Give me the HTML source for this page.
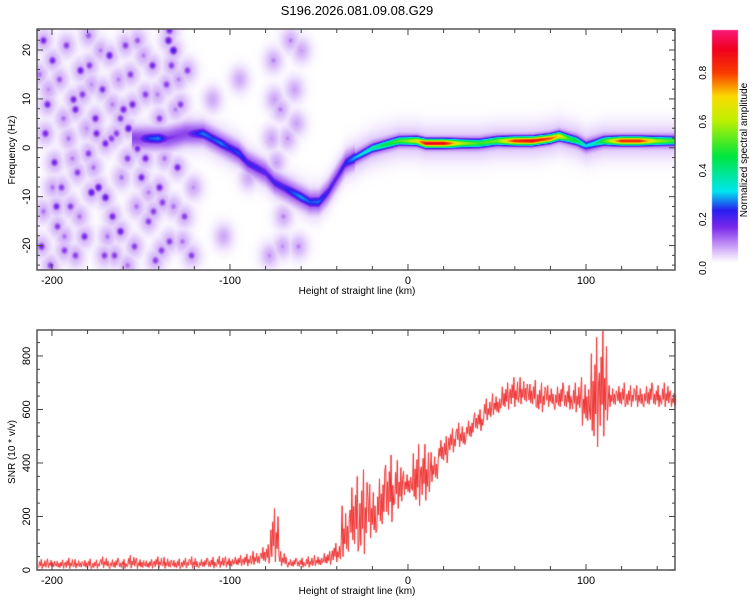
<!DOCTYPE html>
<html><head><meta charset="utf-8"><style>
body{margin:0;background:#fff;width:750px;height:600px;overflow:hidden;font-family:"Liberation Sans",sans-serif}
#wrap{position:relative;width:750px;height:600px}
canvas,svg{position:absolute;left:0;top:0}
</style></head><body><div id="wrap">
<canvas id="cv" width="750" height="600"></canvas>
<svg id="sv" width="750" height="600"></svg>
</div>
<script>
// ---- data ----
const ridgeH=[-155,-148,-145,-140,-135,-125,-120,-115,-110,-105,-100,-95,-90,-85,-80,-75,-70,-65,-60,-55,-50,-45,-40,-35,-30,-25,-20,-15,-10,-5,0,5,10,20,30,40,50,60,70,80,85,90,95,100,105,110,120,130,140,150];
const ridgeF=[2,2,2,2,2,3,3,3,2,1,0,-1,-3,-4,-5,-7,-8,-9,-10,-11,-11,-9,-6,-3,-2,-1,0,0.5,1,1.5,1.5,1.5,1,1,1,1,1.5,1.5,1.5,2,2.5,2,1.5,0.5,1,1.5,1.5,1.5,1.5,1.5];
const ridgeA=[0.02,0.2,0.24,0.26,0.15,0.12,0.2,0.26,0.24,0.26,0.22,0.24,0.2,0.2,0.18,0.2,0.2,0.24,0.27,0.24,0.25,0.2,0.18,0.22,0.28,0.32,0.37,0.42,0.47,0.52,0.57,0.67,0.9,0.9,0.6,0.5,0.55,0.85,0.9,0.8,0.7,0.5,0.45,0.3,0.35,0.5,0.85,0.85,0.6,0.5];
const blobs=[[-205,22,0.16],[-200,18,0.16],[-196,14,0.12],[-192,21,0.14],[-188,10,0.16],[-184,16,0.17],[-180,23,0.12],[-176,6,0.16],[-172,12,0.15],[-168,19,0.17],[-164,3,0.14],[-160,8,0.16],[-156,15,0.14],[-152,22,0.12],[-148,11,0.14],[-144,17,0.16],[-140,6,0.14],[-136,13,0.14],[-132,20,0.2],[-128,9,0.14],[-124,16,0.14],[-204,3,0.16],[-199,-3,0.16],[-195,-8,0.14],[-190,-12,0.14],[-186,-5,0.14],[-182,-18,0.16],[-178,-9,0.18],[-174,-8,0.18],[-170,-10,0.18],[-166,-14,0.16],[-162,-17,0.17],[-158,-2,0.14],[-154,-20,0.14],[-150,-6,0.16],[-146,-15,0.14],[-142,-23,0.14],[-138,-11,0.14],[-134,-19,0.14],[-130,-4,0.16],[-126,-14,0.14],[-122,-22,0.14],[-206,-20,0.16],[-201,-24,0.14],[-197,-16,0.14],[-193,-21,0.14],[-187,-22,0.14],[-180,-1,0.14],[-175,3,0.16],[-170,1,0.16],[-167,2,0.14],[-162,6,0.14],[-157,4,0.18],[-152,0,0.16],[-140,-8,0.16],[-135,22,0.18],[-134,24,0.16],[-133,17,0.14],[-139,-21,0.14],[-143,-13,0.14],[-187,8,0.16],[-183,11,0.14],[-171,-22,0.14],[-165,-22,0.14],[-159,21,0.14],[-148,-2,0.16],[-203,9,0.16],[-198,-12,0.16],[-179,17,0.14],[-155,9,0.16],
[-207,15,0.1],[-202,12,0.08],[-194,6,0.1],[-191,2,0.1],[-185,-14,0.1],[-181,4,0.08],[-177,-4,0.1],[-173,20,0.09],[-169,-18,0.1],[-163,14,0.09],[-161,-6,0.1],[-153,-12,0.1],[-149,19,0.09],[-145,2,0.1],[-141,11,0.09],[-137,-2,0.1],[-131,8,0.09],[-127,-19,0.1],[-123,4,0.1],[-121,-8,0.08],[-200,-8,0.1],[-189,-2,0.09],[-178,13,0.08],[-166,9,0.09],[-158,-24,0.1],[-146,-9,0.09],[-132,-12,0.1],[-129,14,0.09],[-205,-13,0.1],[-193,-18,0.1],
[-76,18,0.09],[-72,8,0.09],[-70,-14,0.09],[-66,22,0.09],[-62,-20,0.09],[-74,-3,0.07],[-68,2,0.08],[-64,12,0.07],[-78,-22,0.08],[-60,20,0.07],[-75,10,0.07],[-71,-20,0.08],[-67,-8,0.07],[-63,5,0.07],[-77,2,0.07],[-110,10,0.06],[-90,-6,0.06],[-104,-18,0.05],[-95,14,0.05]];
const snrX=[-205,-200,-195,-190,-185,-180,-175,-170,-165,-160,-155,-150,-145,-140,-135,-130,-125,-120,-115,-110,-105,-100,-95,-90,-85,-80,-75,-70,-65,-60,-55,-50,-45,-40,-35,-30,-25,-20,-15,-10,-5,0,5,10,15,20,25,30,35,40,45,50,55,60,65,70,75,80,85,90,95,100,105,110,115,120,125,130,135,140,145,150];
const snrLo=[5,8,6,5,7,5,6,8,5,6,7,5,6,8,6,5,7,6,8,7,9,10,15,15,20,25,30,15,10,10,10,15,20,30,50,70,60,120,150,180,230,280,240,260,330,400,440,460,490,520,560,580,600,610,620,610,590,610,600,600,590,540,460,500,610,610,610,610,610,610,610,610];
const snrHi=[40,42,38,45,40,42,38,50,45,40,55,45,40,50,48,42,45,50,45,48,52,50,55,60,70,95,230,70,45,45,50,55,70,100,240,350,375,320,375,430,410,370,470,470,440,500,530,550,570,600,640,660,700,720,720,710,700,690,700,690,700,720,870,895,690,700,690,690,700,690,700,670];
// ---- axes ----
const T={l:37,r:675,t:29,b:270}, B={l:37,r:675,t:330,b:570};
const xS=v=>T.l+(v+208.4)/(358.4)*(T.r-T.l);
const yT=v=>T.t+(24.3-v)/49.3*(T.b-T.t);
const yB=v=>B.b-(v/897)*(B.b-B.t);
function cmap(a){
 const st=[[0,[255,255,255]],[0.03,[232,215,252]],[0.08,[190,140,245]],[0.15,[120,40,235]],[0.22,[40,30,240]],[0.3,[0,230,240]],[0.45,[0,230,60]],[0.6,[190,240,0]],[0.7,[250,220,0]],[0.8,[250,60,0]],[0.9,[240,0,30]],[1,[250,30,140]]];
 a=Math.max(0,Math.min(1,a));
 for(let i=1;i<st.length;i++){if(a<=st[i][0]){const[p,c0]=st[i-1],[q,c1]=st[i];const t=(a-p)/(q-p);return c0.map((c,k)=>Math.round(c+(c1[k]-c)*t));}}
 return st[st.length-1][1];
}
function interp(xs,ys,x){if(x<=xs[0])return ys[0];for(let i=1;i<xs.length;i++)if(x<=xs[i]){const t=(x-xs[i-1])/(xs[i]-xs[i-1]);return ys[i-1]+(ys[i]-ys[i-1])*t;}return ys[ys.length-1];}
const cv=document.getElementById('cv'),ctx=cv.getContext('2d');
// spectrogram
const W=T.r-T.l,H=T.b-T.t,img=ctx.createImageData(W,H),amp=new Float32Array(W*H);
for(const b of blobs){const cx=xS(b[0])-T.l,cy=yT(b[1])-T.t;
 for(let dy=-26;dy<=26;dy++)for(let dx=-20;dx<=20;dx++){const x=Math.round(cx+dx),y=Math.round(cy+dy);if(x<0||y<0||x>=W||y>=H)continue;
  const v=Math.max(b[2]*Math.exp(-(dx*dx/16+dy*dy/20)),0.06*Math.exp(-(dx*dx/90+dy*dy/160)));const k=y*W+x;amp[k]=Math.max(amp[k],v);}}
for(let px=0;px<W;px++){const h=-208.4+(px+0.5)/W*358.4;if(h<ridgeH[0])continue;
 const f=interp(ridgeH,ridgeF,h),a=interp(ridgeH,ridgeA,h),cy=yT(f)-T.t;const wide=h<-30?1.4:1;
 for(let py=0;py<H;py++){const d=py-cy;let v=Math.max(a*Math.exp(-d*d/(2*9*wide*wide)),0.13*Math.exp(-d*d/(2*36*wide*wide)),0.05*Math.exp(-d*d/(2*144)));const k=py*W+px;amp[k]=Math.max(amp[k],v);}}
for(let k=0;k<W*H;k++){const c=cmap(amp[k]);img.data[4*k]=c[0];img.data[4*k+1]=c[1];img.data[4*k+2]=c[2];img.data[4*k+3]=255;}
ctx.putImageData(img,T.l,T.t);
// colorbar
for(let y=30;y<262;y++){const a=(262-y)/(262-30)*0.98;const c=cmap(a);ctx.fillStyle=`rgb(${c})`;ctx.fillRect(712,y,26,1);}
// SNR line
ctx.strokeStyle='#ee3030';ctx.lineWidth=1;ctx.beginPath();
const cx0=x=>Math.max(B.l,Math.min(B.r,x));
const pat=[0.1,0.75,0.3,1,0.0,0.55,0.25,0.85,0.15,0.6];
for(let i=0;i<snrX.length;i++){for(let j=0;j<10;j++){const h=snrX[i]-2.5+j*0.5;const fr=pat[(j+i*3)%10];ctx.lineTo(cx0(xS(h)),yB(snrLo[i]+(snrHi[i]-snrLo[i])*fr));}}
ctx.stroke();
// SVG axes
const sv=document.getElementById('sv');const NS='http://www.w3.org/2000/svg';
function el(t,at,txt){const e=document.createElementNS(NS,t);for(const k in at)e.setAttribute(k,at[k]);if(txt!=null)e.textContent=txt;sv.appendChild(e);return e;}
function frame(R,name){const e=el('rect',{x:R.l,y:R.t,width:R.r-R.l,height:R.b-R.t,fill:'none',stroke:'#555','stroke-width':1.5});
 
 }
frame(T,'spectrogram-frame');frame(B,'snr-frame');
for(const R of [T,B]){for(let v=-200;v<=140;v+=20){const x=xS(v);const L=v%100===0?6:4;
  el('line',{x1:x,x2:x,y1:R.b,y2:R.b-L,stroke:'#444'});el('line',{x1:x,x2:x,y1:R.t,y2:R.t+L,stroke:'#444'});
  if(v%100===0){const t=el('text',{x:x,y:R.b+14,'font-size':11,'text-anchor':'middle',fill:'#000'},v);
   
   }}
 const t=el('text',{x:357,y:R.b+24,'font-size':10,'text-anchor':'middle'},'Height of straight line (km)');
 
 }
for(let v=-24;v<=24;v+=2){const y=yT(v);const L=v%10===0?6:3;el('line',{x1:T.l,x2:T.l+L,y1:y,y2:y,stroke:'#444'});el('line',{x1:T.r,x2:T.r-L,y1:y,y2:y,stroke:'#444'});
 if(v%10===0){const t=el('text',{x:30,y:y,'font-size':11,'text-anchor':'middle',transform:`rotate(-90 30 ${y})`},v);
  
  }}
for(let v=0;v<=850;v+=50){const y=yB(v);const L=v%200===0?6:3;el('line',{x1:B.l,x2:B.l+L,y1:y,y2:y,stroke:'#444'});el('line',{x1:B.r,x2:B.r-L,y1:y,y2:y,stroke:'#444'});
 if(v%200===0){const t=el('text',{x:30,y:y,'font-size':11,'text-anchor':'middle',transform:`rotate(-90 30 ${y})`},v);
  
  }}
let t=el('text',{x:15,y:150,'font-size':10,'text-anchor':'middle',transform:'rotate(-90 15 150)'},'Frequency (Hz)');


t=el('text',{x:15,y:452,'font-size':10,'text-anchor':'middle',transform:'rotate(-90 15 452)'},'SNR (10 * v/v)');


t=el('text',{x:357,y:15,'font-size':13,'text-anchor':'middle'},'S196.2026.081.09.08.G29');


for(let v=0;v<=8;v+=2){const y=268-v/10*244;const s=(v/10).toFixed(1);const tt=el('text',{x:706,y:y,'font-size':10,'text-anchor':'middle',transform:`rotate(-90 706 ${y})`},s);
 
 }
t=el('text',{x:747,y:150,'font-size':10,'text-anchor':'middle',transform:'rotate(-90 747 150)'},'Normalized spectral amplitude');


</script></body></html>
